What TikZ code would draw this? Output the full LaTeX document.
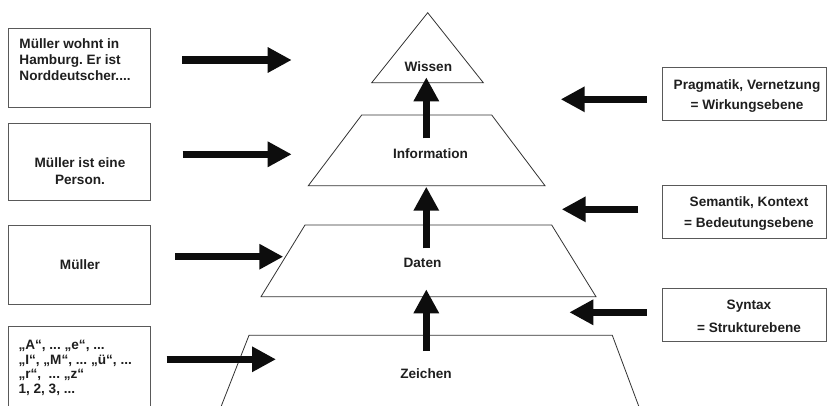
\documentclass[tikz,border=0pt]{standalone}
\usepackage{fontspec}
\setmainfont{Liberation Sans}
\usetikzlibrary{arrows.meta}
\frenchspacing
\begin{document}
\begin{tikzpicture}[x=1pt,y=-1pt,
  txt/.style={font=\fontsize{13.6}{16}\selectfont\bfseries, text=black!88, inner sep=0pt},
  infobox/.style={draw=black!65, line width=0.9pt, fill=white, inner sep=0pt, minimum width=142.4pt},
  rightbox/.style={draw=black!65, line width=0.9pt, fill=white, inner sep=0pt, minimum width=163.3pt},
  level/.style={draw=black!80, line width=0.8pt, fill=white},
  bigarrow/.style={line width=7.3pt, -{Triangle[width=24pt,length=24pt]}, black!95}]
\clip (0,0) rectangle (828,405);
\fill[white] (0,0) rectangle (828,405);

% pyramid levels
\draw[level] (427.7,12.7) -- (483.3,82.7) -- (371.7,82.7) -- cycle;
\draw[level] (361.7,115) -- (491.7,115) -- (545,185.7) -- (308.3,185.7) -- cycle;
\draw[level] (305,225) -- (551.7,225) -- (596,296.7) -- (261,296.7) -- cycle;
\draw[level] (249,335.3) -- (612.3,335.3) -- (643.9,420) -- (215.8,420) -- cycle;

\node[txt] (wissen) at (428.3,66.7) {Wissen};
\node[txt] (information) at (430.5,153.3) {Information};
\node[txt] (daten) at (422.5,263.3) {Daten};
\node[txt] (zeichen) at (426,373.3) {Zeichen};

% example boxes on the left
\node[infobox, minimum height=79pt] (ex1) at (79.5,67.8) {};
\node[txt, anchor=west, align=left] (ex1t) at (19.3,60) {Müller wohnt in\\Hamburg. Er ist\\Norddeutscher....};
\node[infobox, minimum height=77.4pt] (ex2) at (79.5,162) {};
\node[txt, align=center, font=\fontsize{13.6}{17}\selectfont\bfseries] (ex2t) at (80,171.5) {Müller ist eine\\Person.};
\node[infobox, minimum height=79pt] (ex3) at (79.5,264.5) {};
\node[txt] (ex3t) at (80,264.5) {Müller};
\node[infobox, minimum height=81pt] (ex4) at (79.5,367.2) {};
\node[txt, anchor=west, align=left, font=\fontsize{13.6}{14.7}\selectfont\bfseries] (ex4t) at (18.3,368)
  {„A“, ... „e“, ...\\„I“, „M“, ... „ü“, ...\\„r“,\ \ ... „z“\\1, 2, 3, ...};

% level boxes on the right
\node[rightbox, minimum height=52.7pt] (prag) at (744.4,93.7) {};
\node[txt, align=center, font=\fontsize{13.6}{20.5}\selectfont\bfseries] (pragt) at (747,96)
  {Pragmatik, Vernetzung\\= Wirkungsebene};
\node[rightbox, minimum height=53.3pt] (sem) at (744.4,211.7) {};
\node[txt, align=center, font=\fontsize{13.6}{21.6}\selectfont\bfseries] (semt) at (749,213.5)
  {Semantik, Kontext\\= Bedeutungsebene};
\node[rightbox, minimum height=52.7pt] (syn) at (744.4,314.7) {};
\node[txt, align=center, font=\fontsize{13.6}{23}\selectfont\bfseries] (synt) at (749,316)
  {Syntax\\= Strukturebene};

% arrow end points
\coordinate (a1s) at (182.3,60);    \coordinate (a1e) at (291.7,60);
\coordinate (a2s) at (182.7,154.3); \coordinate (a2e) at (291.7,154.3);
\coordinate (a3s) at (175,256.7);   \coordinate (a3e) at (283.3,256.7);
\coordinate (a4s) at (166.7,359.3); \coordinate (a4e) at (276,359.3);
\coordinate (b1s) at (646.7,99.3);  \coordinate (b1e) at (560.7,99.3);
\coordinate (b2s) at (638.3,209.3); \coordinate (b2e) at (561.7,209.3);
\coordinate (b3s) at (646.7,312.3); \coordinate (b3e) at (569.3,312.3);
\coordinate (u1s) at (426.3,138.3); \coordinate (u1e) at (426.3,77.3);
\coordinate (u2s) at (426.3,248.3); \coordinate (u2e) at (426.3,186.7);
\coordinate (u3s) at (426.3,351);   \coordinate (u3e) at (426.3,289.3);

% arrows
\draw[bigarrow] (a1s) -- (a1e);
\draw[bigarrow] (a2s) -- (a2e);
\draw[bigarrow] (a3s) -- (a3e);
\draw[bigarrow] (a4s) -- (a4e);
\draw[bigarrow] (b1s) -- (b1e);
\draw[bigarrow] (b2s) -- (b2e);
\draw[bigarrow] (b3s) -- (b3e);
\draw[bigarrow] (u1s) -- (u1e);
\draw[bigarrow] (u2s) -- (u2e);
\draw[bigarrow] (u3s) -- (u3e);
\end{tikzpicture}
\end{document}
